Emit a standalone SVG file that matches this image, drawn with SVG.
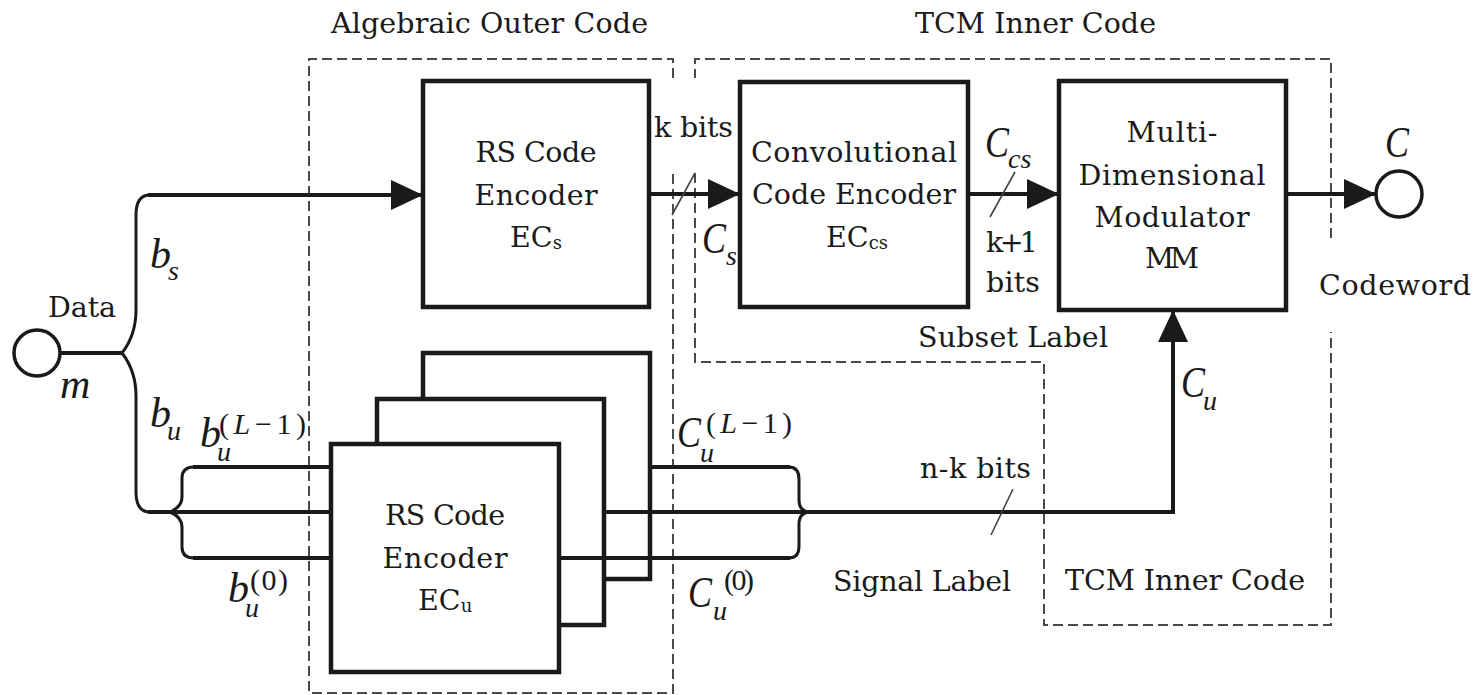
<svg xmlns="http://www.w3.org/2000/svg" width="1479" height="695" viewBox="0 0 1479 695">
<style>
text{font-family:"Liberation Serif","DejaVu Serif",serif;fill:#1a1a1a}
.t{font-family:"DejaVu Serif","Liberation Serif",serif;font-size:28.5px}
.mi{font-style:italic}
.box{fill:#fff;stroke:#1a1a1a;stroke-width:4.5}
.ln{fill:none;stroke:#1a1a1a;stroke-width:4}
.br{fill:none;stroke:#1a1a1a;stroke-width:3}
.tick{stroke:#444;stroke-width:1.6}
.dash{fill:none;stroke:#4a4a4a;stroke-width:2;stroke-dasharray:10 5}
.circ{fill:#fff;stroke:#1a1a1a;stroke-width:3.5}
</style>
<defs>
<marker id="ah" viewBox="0 0 32 30" refX="32" refY="15" markerWidth="32" markerHeight="30" markerUnits="userSpaceOnUse" orient="auto">
<path d="M0,0 L32,15 L0,30 Z" fill="#1a1a1a"/>
</marker>
</defs>

<g id="regions">
<path class="dash" d="M673,78 V59 H309 V693 H673 V173"/>
<path class="dash" d="M695,173 V362 H1044 V625 H1331 V332 M1331,238 V59 H695 V78"/>
<text class="t" x="331" y="33" textLength="317" lengthAdjust="spacing">Algebraic Outer Code</text>
<text class="t" x="915" y="33" textLength="241" lengthAdjust="spacing">TCM Inner Code</text>
<text class="t" x="1065" y="590" textLength="240" lengthAdjust="spacing">TCM Inner Code</text>
<text class="t" x="918" y="347" textLength="190" lengthAdjust="spacing">Subset Label</text>
<text class="t" x="833" y="591" textLength="178" lengthAdjust="spacing">Signal Label</text>
</g>

<g id="data">
<circle class="circ" cx="37" cy="353" r="23"/>
<text class="t" x="48" y="317" textLength="68" lengthAdjust="spacing">Data</text>
<text class="mi" x="60" y="398" font-size="42">m</text>
</g>

<g id="rs-top">
<rect class="box" x="423" y="81" width="226" height="226"/>
<text class="t" x="536" y="162" text-anchor="middle" textLength="121" lengthAdjust="spacing">RS Code</text>
<text class="t" x="536" y="205" text-anchor="middle" textLength="123" lengthAdjust="spacing">Encoder</text>
<text class="t" x="510" y="247">EC<tspan font-size="18" dy="2">s</tspan></text>
</g>

<g id="rs-stack">
<rect class="box" x="423" y="353" width="227" height="226"/>
<rect class="box" x="377" y="399" width="227" height="226"/>
<rect class="box" x="331" y="444" width="228" height="228"/>
<text class="t" x="445" y="525" text-anchor="middle" textLength="120" lengthAdjust="spacing">RS Code</text>
<text class="t" x="445" y="568" text-anchor="middle" textLength="125" lengthAdjust="spacing">Encoder</text>
<text class="t" x="418" y="610">EC<tspan font-size="18" dy="2">u</tspan></text>
</g>

<g id="conv">
<rect class="box" x="740" y="82" width="228" height="225"/>
<text class="t" x="854" y="162" text-anchor="middle" textLength="206" lengthAdjust="spacing">Convolutional</text>
<text class="t" x="854" y="204" text-anchor="middle" textLength="204" lengthAdjust="spacing">Code Encoder</text>
<text class="t" x="826" y="247">EC<tspan font-size="18" dy="2">cs</tspan></text>
</g>

<g id="mm">
<rect class="box" x="1059" y="81" width="227" height="229"/>
<text class="t" x="1172" y="142" text-anchor="middle" textLength="91" lengthAdjust="spacing">Multi-</text>
<text class="t" x="1172" y="185" text-anchor="middle" textLength="187" lengthAdjust="spacing">Dimensional</text>
<text class="t" x="1172" y="227" text-anchor="middle" textLength="155" lengthAdjust="spacing">Modulator</text>
<text class="t" x="1172" y="268" text-anchor="middle" textLength="54" lengthAdjust="spacing">MM</text>
</g>

<g id="codeword">
<circle class="circ" cx="1399" cy="194" r="23"/>
<text class="t" x="1319" y="295" textLength="152" lengthAdjust="spacing">Codeword</text>
<text class="mi" x="1385" y="157" font-size="44" textLength="24" lengthAdjust="spacingAndGlyphs">C</text>
</g>

<g id="connectors">
<path class="ln" d="M60,353 H122"/>
<path class="br" d="M122,353 Q136,335 136,310 V215 Q136,195 150,195"/>
<path class="br" d="M122,353 Q136,371 136,396 V492 Q136,512 150,512"/>
<path class="ln" d="M148,195 H423" marker-end="url(#ah)"/>
<path class="ln" d="M148,512 H331"/>
<path class="br" d="M170,512 Q182,507 182,497 V478 Q182,467 194,467"/>
<path class="br" d="M170,512 Q182,517 182,527 V547 Q182,558 194,558"/>
<path class="ln" d="M193,467 H331"/>
<path class="ln" d="M193,558 H331"/>
<path class="ln" d="M650,467 H790"/>
<path class="ln" d="M604,512 H1173 V310" marker-end="url(#ah)"/>
<path class="ln" d="M559,558 H790"/>
<path class="br" d="M789,467 Q799,467 799,479 V500 Q799,512 811,512"/>
<path class="br" d="M789,558 Q799,558 799,546 V524 Q799,512 811,512"/>
<path class="ln" d="M649,194 H740" marker-end="url(#ah)"/>
<path class="ln" d="M968,194 H1059" marker-end="url(#ah)"/>
<path class="ln" d="M1286,194 H1376" marker-end="url(#ah)"/>
<line class="tick" x1="672" y1="215" x2="695" y2="173"/>
<line class="tick" x1="990" y1="217" x2="1015" y2="172"/>
<line class="tick" x1="991" y1="535" x2="1013" y2="489"/>
</g>

<g id="labels">
<text class="t" x="654" y="137" textLength="79" lengthAdjust="spacing">k bits</text>
<text class="t" x="986" y="252" textLength="52" lengthAdjust="spacing">k+1</text>
<text class="t" x="986" y="292" textLength="54" lengthAdjust="spacing">bits</text>
<text class="t" x="920" y="478" textLength="111" lengthAdjust="spacing">n-k bits</text>
<text class="mi" x="150" y="268" font-size="42">b</text><text class="mi" x="168" y="280" font-size="28">s</text>
<text class="mi" x="150" y="427" font-size="42">b</text><text class="mi" x="167" y="440" font-size="28">u</text>
<text class="mi" x="200" y="447" font-size="42">b</text><text class="mi" x="217" y="461" font-size="28">u</text>
<text x="219" y="434" font-size="30" textLength="87" lengthAdjust="spacing">(<tspan class="mi">L</tspan>−1)</text>
<text class="mi" x="228" y="602" font-size="42">b</text><text class="mi" x="245" y="617" font-size="28">u</text>
<text x="250" y="590" font-size="30" textLength="38" lengthAdjust="spacing">(0)</text>
<text class="mi" x="677" y="447" font-size="44" textLength="24" lengthAdjust="spacingAndGlyphs">C</text><text class="mi" x="700" y="462" font-size="28">u</text>
<text x="706" y="433" font-size="30" textLength="86" lengthAdjust="spacing">(<tspan class="mi">L</tspan>−1)</text>
<text class="mi" x="688" y="607" font-size="44" textLength="24" lengthAdjust="spacingAndGlyphs">C</text><text class="mi" x="713" y="620" font-size="28">u</text>
<text x="724" y="590" font-size="30" textLength="30" lengthAdjust="spacing">(0)</text>
<text class="mi" x="702" y="253" font-size="44" textLength="24" lengthAdjust="spacingAndGlyphs">C</text><text class="mi" x="726" y="265" font-size="28">s</text>
<text class="mi" x="985" y="157" font-size="44" textLength="24" lengthAdjust="spacingAndGlyphs">C</text><text class="mi" x="1008" y="168" font-size="28">cs</text>
<text class="mi" x="1181" y="397" font-size="44" textLength="24" lengthAdjust="spacingAndGlyphs">C</text><text class="mi" x="1203" y="410" font-size="28">u</text>
</g>
</svg>
